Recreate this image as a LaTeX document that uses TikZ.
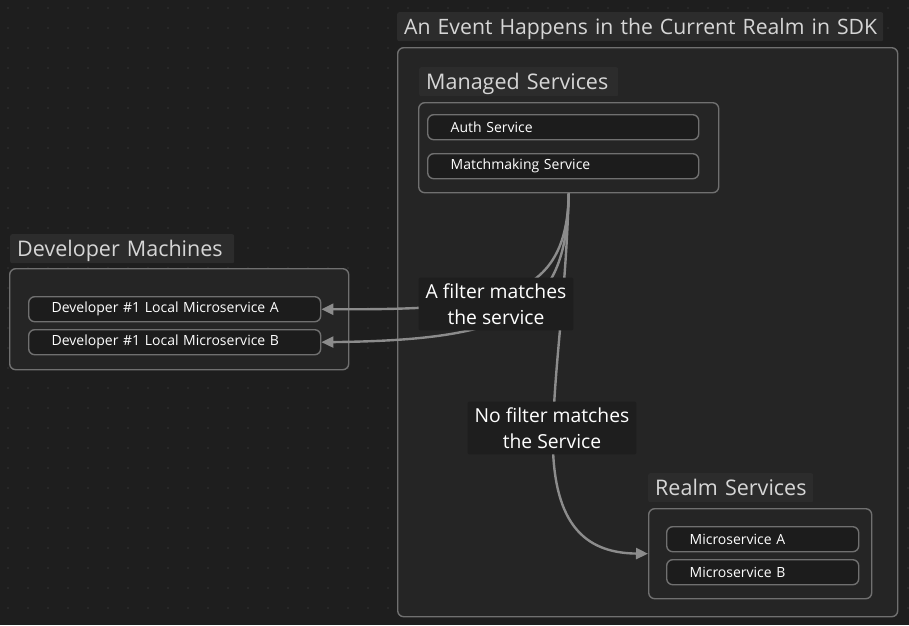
\documentclass[tikz,border=0pt]{standalone}
\usepackage{fontspec}
\setmainfont{Open Sans}
\usetikzlibrary{arrows.meta}
\definecolor{canvas}{RGB}{30,30,30}
\definecolor{griddot}{RGB}{52,52,52}
\definecolor{framefill}{RGB}{37,37,37}
\definecolor{labelfill}{RGB}{44,44,44}
\definecolor{itemfill}{RGB}{28,28,28}
\definecolor{lineclr}{RGB}{112,112,112}
\definecolor{flowclr}{RGB}{140,140,140}
\definecolor{textclr}{RGB}{214,214,214}
\tikzset{
  grouplabel/.style={anchor=north west, fill=labelfill, rounded corners=2pt,
    text=textclr, font=\fontsize{21.5}{24}\selectfont, inner xsep=7pt,
    inner ysep=6pt, text height=16pt, text depth=1pt, align=left},
  groupbox/.style={anchor=north west, draw=lineclr, fill=framefill,
    line width=1.4pt, rounded corners=6pt},
  itembox/.style={anchor=north west, draw=lineclr, fill=itemfill,
    line width=1.4pt, rounded corners=6pt, text=white,
    font=\fontsize{14}{16}\selectfont, inner xsep=23pt,
    minimum height=25pt, align=left},
  flow/.style={draw=flowclr, line width=2.4pt,
    -{Triangle[length=12pt,width=11pt]}},
  edgelabel/.style={fill=canvas, rounded corners=2pt, text=white,
    font=\fontsize{19.3}{26}\selectfont, align=center, inner xsep=7pt,
    inner ysep=6pt}
}
\begin{document}
\begin{tikzpicture}[x=1pt, y=-1pt]
  \fill[canvas] (0,0) rectangle (909,625);
  \useasboundingbox (0,0) rectangle (909,625);
  % dotted canvas
  \foreach \i in {0,...,45}
    \foreach \j in {0,...,31}
      \fill[griddot] (\i*20+8, \j*20+8) circle (0.9pt);

  % outer realm frame
  \node[groupbox, minimum width=500pt, minimum height=569pt] (realm) at (397,47) {};
  \node[grouplabel, text width=472pt, font=\fontsize{21.2}{24}\selectfont] (realmtitle) at (397,12) {\mbox{An Event Happens in the Current Realm in SDK}};

  % managed services
  \node[grouplabel, text width=185pt] (managedtitle) at (419,67) {\mbox{Managed Services}};
  \node[groupbox, minimum width=300pt, minimum height=90pt] (managed) at (418,102) {};
  \node[itembox, text width=225pt] (auth) at (427,114) {Auth Service};
  \node[itembox, text width=225pt] (match) at (427,153) {Matchmaking Service};

  % developer machines
  \node[grouplabel, text width=210pt] (devtitle) at (10,234) {\mbox{Developer Machines}};
  \node[groupbox, minimum width=339pt, minimum height=101pt] (dev) at (9,268) {};
  \node[itembox, text width=246pt] (devA) at (28,296) {Developer \#1 Local Microservice A};
  \node[itembox, text width=246pt] (devB) at (28,329) {Developer \#1 Local Microservice B};

  % realm services
  \node[grouplabel, text width=151pt] (realmsvctitle) at (648,473) {\mbox{Realm Services}};
  \node[groupbox, minimum width=223pt, minimum height=90pt] (realmsvc) at (648,508) {};
  \node[itembox, text width=146pt] (msA) at (666,526) {Microservice A};
  \node[itembox, text width=146pt] (msB) at (666,559) {Microservice B};

  % connectors
  \draw[flow] (managed.south) .. controls (567,300) and (500,310) .. (devA.east);
  \draw[flow] (managed.south) .. controls (567,310) and (520,340) .. (devB.east);
  \draw[flow] (managed.south) .. controls (566,300) and (552,380) .. (553,450)
    .. controls (556,530) and (590,553) .. (realmsvc.west);

  % connector labels
  \node[edgelabel] (matchlbl) at (496,304) {A filter matches\\the service};
  \node[edgelabel] (nomatchlbl) at (552,428) {No filter matches\\the Service};
\end{tikzpicture}
\end{document}
